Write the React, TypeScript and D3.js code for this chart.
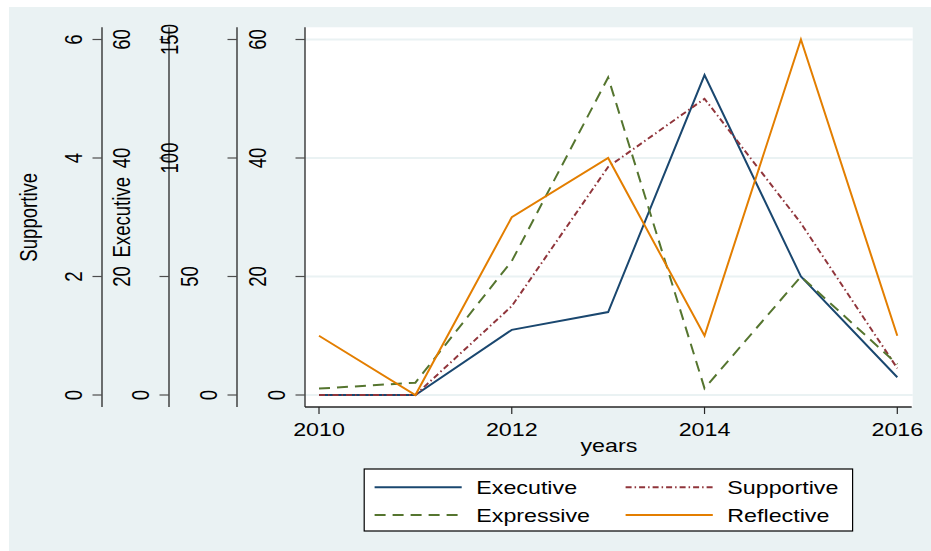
import React from "react";
import * as d3 from "d3";

// Yearly counts per leadership style
const years = [2010, 2011, 2012, 2013, 2014, 2015, 2016];
const executive = [0, 0, 11, 14, 54, 20, 3];
const supportive = [0, 0, 1.5, 3.85, 5, 2.9, 0.45];
const expressive = [2.7, 5.2, 56.5, 134, 2.8, 50, 13];
const reflective = [10, 0, 30, 40, 10, 60, 10];

// Axis ticks
const xTicks = [2010, 2012, 2014, 2016];
const supportiveTicks = [0, 2, 4, 6];
const executiveTicks = [0, 20, 40, 60];
const expressiveTicks = [0, 50, 100, 150];
const reflectiveTicks = [0, 20, 40, 60];

const W = 931;
const H = 551;
const FONT = "'Liberation Sans', Arial, Helvetica, sans-serif";
const FS = 18.6;
const SX = 1.25; // horizontal stretch of glyphs

const plot = { left: 305, right: 912.7, top: 27.3, bottom: 407 };
const yTop = 39.5;
const yZero = 395;

const colors = {
  executive: "#1a476f",
  supportive: "#90353b",
  expressive: "#55752f",
  reflective: "#e37e00",
};

type AxisSpec = {
  x: number;
  ticks: number[];
  title?: string;
  titleX?: number;
};

const x = d3.scaleLinear().domain([2010, 2016]).range([319, 897.3]);

function yScale(max: number) {
  return d3.scaleLinear().domain([0, max]).range([yZero, yTop]);
}

const ySup = yScale(d3.max(supportiveTicks)!);
const yExe = yScale(d3.max(executiveTicks)!);
const yExp = yScale(d3.max(expressiveTicks)!);
const yRef = yScale(d3.max(reflectiveTicks)!);

const axes: (AxisSpec & { scale: d3.ScaleLinear<number, number> })[] = [
  { x: 102, ticks: supportiveTicks, title: "Supportive", titleX: 28.3, scale: ySup },
  { x: 169, ticks: executiveTicks, title: "Executive", titleX: 121.7, scale: yExe },
  { x: 237, ticks: expressiveTicks, scale: yExp },
  { x: 305, ticks: reflectiveTicks, scale: yRef },
];

const series = [
  { name: "Executive", values: executive, scale: yExe, color: colors.executive, dash: undefined as string | undefined, width: 2 },
  { name: "Supportive", values: supportive, scale: ySup, color: colors.supportive, dash: "6 3 1.5 3", width: 2 },
  { name: "Expressive", values: expressive, scale: yExp, color: colors.expressive, dash: "11 7", width: 2 },
  { name: "Reflective", values: reflective, scale: yRef, color: colors.reflective, dash: undefined as string | undefined, width: 2 },
];

function HText({ x, y, anchor = "middle", children }: { x: number; y: number; anchor?: string; children: React.ReactNode }) {
  return (
    <text
      transform={`translate(${x},${y}) scale(${SX},1)`}
      textAnchor={anchor}
      fontFamily={FONT}
      fontSize={FS}
      fill="#000"
    >
      {children}
    </text>
  );
}

function VText({ x, y, children }: { x: number; y: number; children: React.ReactNode }) {
  return (
    <text
      transform={`translate(${x},${y}) scale(${SX},1) rotate(-90)`}
      textAnchor="middle"
      dy="0.358em"
      fontFamily={FONT}
      fontSize={FS}
      fill="#000"
    >
      {children}
    </text>
  );
}

export default function App() {
  const legendRows = [
    [series[0], series[1]],
    [series[2], series[3]],
  ];
  const legendRowY = [487.3, 515];
  const legendCols = [
    { x0: 374.6, x1: 461.7, tx: 476.3 },
    { x0: 625.6, x1: 712.8, tx: 727.3 },
  ];

  return (
    <svg
      width={W}
      height={H}
      style={{ position: "absolute", left: 0, top: 0, display: "block" }}
    >
      <rect x={0} y={0} width={W} height={H} fill="#ffffff" />
      <rect x={9} y={7} width={W - 9} height={H - 7} fill="#eaf2f3" />
      <rect
        x={plot.left}
        y={plot.top}
        width={plot.right - plot.left}
        height={plot.bottom - plot.top}
        fill="#ffffff"
      />

      {/* horizontal grid */}
      {reflectiveTicks.map((t) => (
        <line
          key={`g${t}`}
          x1={plot.left}
          x2={plot.right}
          y1={yRef(t)}
          y2={yRef(t)}
          stroke="#eaf2f3"
          strokeWidth={2}
        />
      ))}

      {/* y axes */}
      {axes.map((a, i) => (
        <g key={`ax${i}`}>
          <line x1={a.x} x2={a.x} y1={plot.top} y2={plot.bottom} stroke="#262626" strokeWidth={1.3} />
          {a.ticks.map((t) => {
            const label = String(t);
            const lx = a.x - (28 + 19.5 * (label.length - 1));
            return (
              <g key={`t${i}-${t}`}>
                <line x1={a.x - 9.5} x2={a.x} y1={a.scale(t)} y2={a.scale(t)} stroke="#4d4d4d" strokeWidth={1.2} />
                <VText x={lx} y={a.scale(t)}>{label}</VText>
              </g>
            );
          })}
          {a.title && (
            <VText x={a.titleX!} y={(yZero + yTop) / 2}>{a.title}</VText>
          )}
        </g>
      ))}

      {/* x axis */}
      <line x1={plot.left} x2={plot.right - 1} y1={plot.bottom} y2={plot.bottom} stroke="#262626" strokeWidth={1.3} />
      {xTicks.map((t) => (
        <g key={`xt${t}`}>
          <line x1={x(t)} x2={x(t)} y1={plot.bottom} y2={plot.bottom + 7} stroke="#262626" strokeWidth={1.2} />
          <HText x={x(t)} y={435.7}>{t}</HText>
        </g>
      ))}
      <HText x={(plot.left + plot.right) / 2} y={451.5}>years</HText>

      {/* series */}
      {series.map((s) => {
        const path = d3
          .line<number>()
          .x((_, i) => x(years[i]))
          .y((v) => s.scale(v))(s.values);
        return (
          <path
            key={s.name}
            d={path ?? ""}
            fill="none"
            stroke={s.color}
            strokeWidth={s.width}
            strokeDasharray={s.dash}
            strokeLinejoin="miter"
          />
        );
      })}

      {/* legend */}
      <rect x={364.2} y={469} width={852.6 - 364.2} height={531 - 469} fill="#ffffff" stroke="#000" strokeWidth={1.2} />
      {legendRows.map((row, r) =>
        row.map((s, c) => (
          <g key={`lg${s.name}`}>
            <line
              x1={legendCols[c].x0}
              x2={legendCols[c].x1}
              y1={legendRowY[r]}
              y2={legendRowY[r]}
              stroke={s.color}
              strokeWidth={s.width}
              strokeDasharray={s.dash}
            />
            <HText x={legendCols[c].tx} y={legendRowY[r] + 6.7} anchor="start">{s.name}</HText>
          </g>
        ))
      )}
    </svg>
  );
}
